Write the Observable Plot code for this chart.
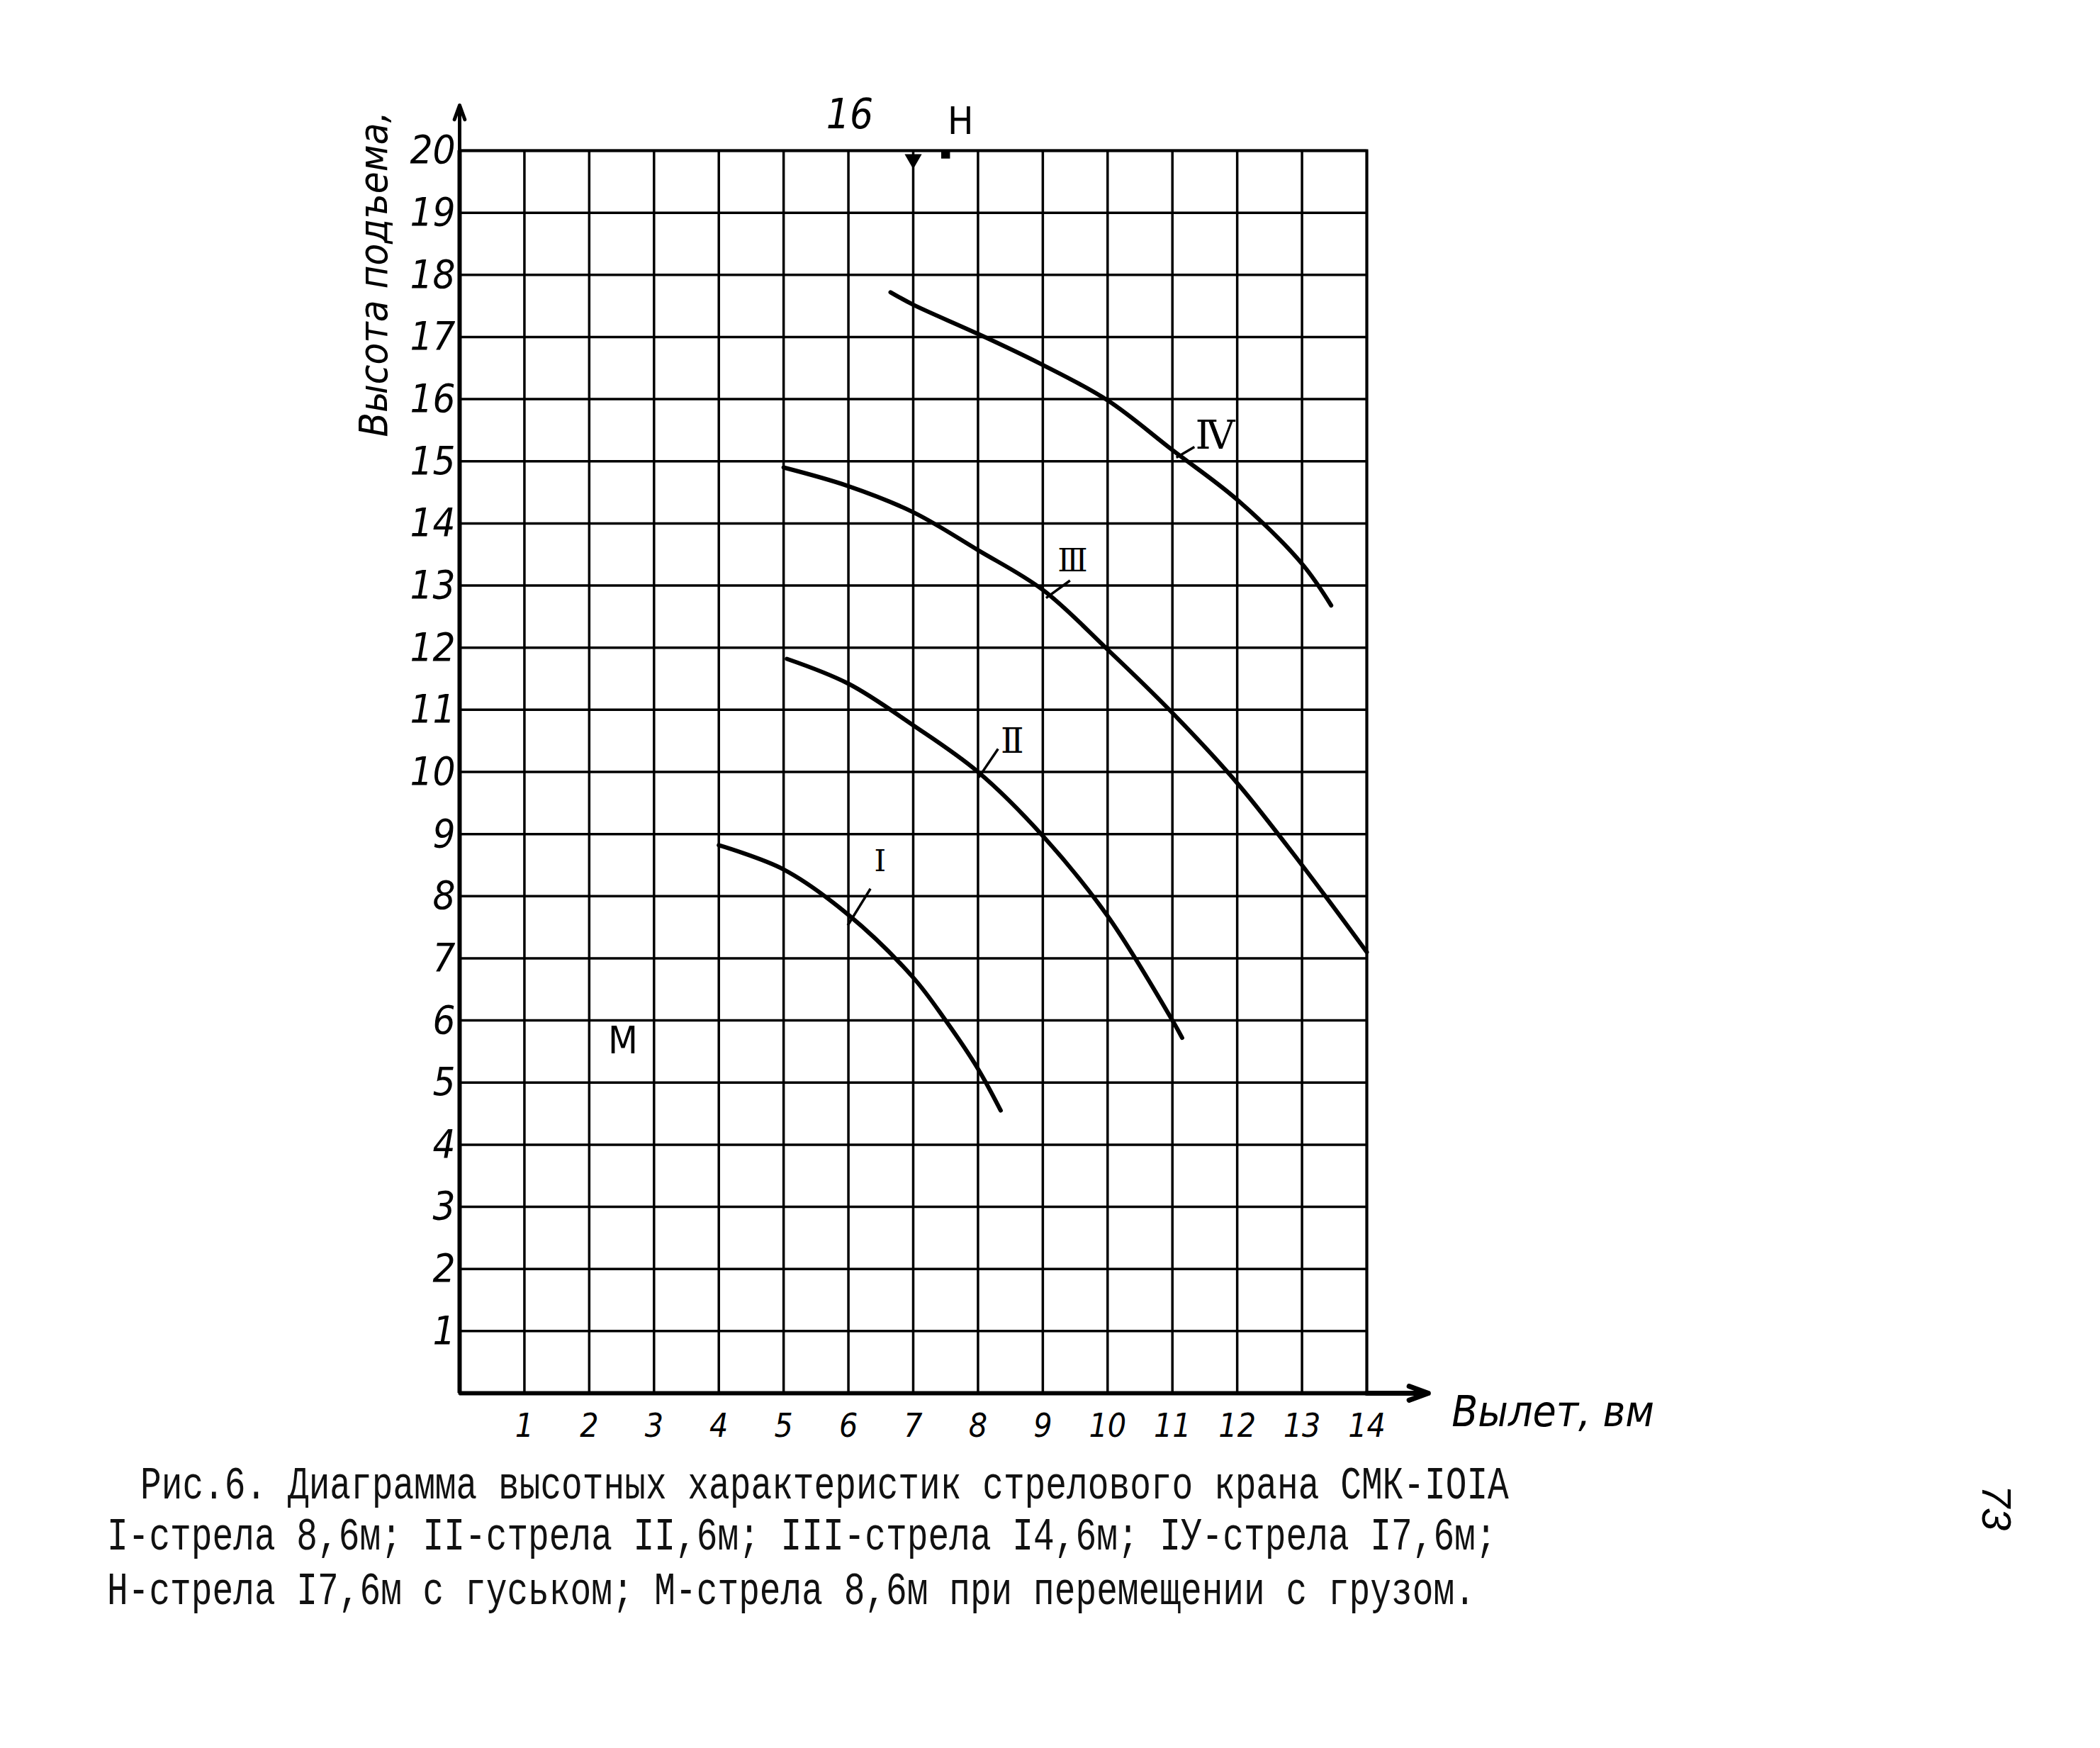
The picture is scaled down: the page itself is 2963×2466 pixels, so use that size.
<!DOCTYPE html>
<html>
<head>
<meta charset="utf-8">
<script src="https://cdn.jsdelivr.net/npm/d3@7"></script>
<script src="https://cdn.jsdelivr.net/npm/@observablehq/plot@0.6"></script>
<style>
  html, body { margin: 0; padding: 0; background: white; }
  body { width: 2963px; height: 2466px; position: relative; overflow: hidden; }
  #chart { position: absolute; left: 0; top: 0; }
  .cap { position: absolute; font-family: "Liberation Mono", "DejaVu Sans Mono", monospace; font-size: 49.5px;
         line-height: 1; white-space: pre; color: #111; transform: scaleY(1.32); transform-origin: 0 0; }
  #page { position: absolute; left: 2817px; top: 2127px; transform: translate(-50%, -50%) rotate(90deg);
          font-family: "Liberation Sans", sans-serif; font-style: italic; font-size: 58px; color: #000; }
</style>
</head>
<body>
<div id="chart"></div>
<div class="cap" style="left:198px; top:2065px;">Рис.6. Диаграмма высотных характеристик стрелового крана СМК-IOIA</div>
<div class="cap" style="left:151px; top:2137px;">I-стрела 8,6м; II-стрела II,6м; III-стрела I4,6м; IУ-стрела I7,6м;</div>
<div class="cap" style="left:151px; top:2214px;">Н-стрела I7,6м с гуськом; М-стрела 8,6м при перемещении с грузом.</div>
<div id="page">73</div>
<script>
// ---- data ----
const xTicks = [1, 2, 3, 4, 5, 6, 7, 8, 9, 10, 11, 12, 13, 14];
const yTicks = [1, 2, 3, 4, 5, 6, 7, 8, 9, 10, 11, 12, 13, 14, 15, 16, 17, 18, 19, 20];
const gridXValues = [0, 1, 2, 3, 4, 5, 6, 7, 8, 9, 10, 11, 12, 13, 14];
const gridYValues = [0, 1, 2, 3, 4, 5, 6, 7, 8, 9, 10, 11, 12, 13, 14, 15, 16, 17, 18, 19, 20];

const seriesNames = ["I", "II", "III", "IV"];
const curveI_x   = [4, 5, 6, 7, 7.5, 8, 8.35];
const curveI_y   = [8.82, 8.43, 7.7, 6.69, 6.0, 5.22, 4.55];
const curveII_x  = [5.05, 6, 7, 8, 9, 10, 11, 11.15];
const curveII_y  = [11.82, 11.42, 10.75, 10.0, 8.97, 7.68, 6.0, 5.72];
const curveIII_x = [5, 6, 7, 8, 9, 10, 11, 12, 13, 14];
const curveIII_y = [14.9, 14.6, 14.18, 13.57, 12.93, 11.97, 10.95, 9.82, 8.5, 7.1];
const curveIV_x  = [6.65, 7, 8, 9, 10, 11, 12, 13, 13.45];
const curveIV_y  = [17.72, 17.52, 17.05, 16.55, 15.98, 15.18, 14.38, 13.35, 12.68];

// curve labels (Roman numerals) and their leader lines
const labelText   = ["Ⅰ", "Ⅱ", "Ⅲ", "Ⅳ"];
const labelX      = [6.49, 8.53, 9.46, 11.66];
const labelY      = [8.56, 10.48, 13.39, 15.41];
const labelSize   = [42, 48, 44, 56];
const leaderX1    = [6.34, 8.31, 9.42, 11.34];
const leaderY1    = [8.12, 10.37, 13.08, 15.23];
const leaderX2    = [5.99, 8.01, 9.05, 11.06];
const leaderY2    = [7.53, 9.91, 12.8, 15.06];

// other annotations
const italicNoteText = ["16"];
const italicNoteX    = [6.02];
const italicNoteY    = [20.57];
const noteText = ["H", "M"];
const noteX    = [7.73, 2.52];
const noteY    = [20.46, 5.67];
const hMarkX = [7.5];      // H marker on the top edge
const tickMarkX = [7];     // wedge on the top edge
const xAxisEnd = 14.95;    // arrow end of the x axis
const yAxisEnd = 20.73;    // arrow end of the y axis
const xTitle = "Вылет, вм";
const yTitle = "Высота подъема,";

// ---- build tables ----
const curveX = [curveI_x, curveII_x, curveIII_x, curveIV_x];
const curveY = [curveI_y, curveII_y, curveIII_y, curveIV_y];
const curves = [];
seriesNames.forEach((s, i) => curveX[i].forEach((x, j) => curves.push({series: s, x, y: curveY[i][j]})));
const labels = labelText.map((t, i) => ({t, x: labelX[i], y: labelY[i], size: labelSize[i]}));
const leaders = leaderX1.map((x1, i) => ({x1, y1: leaderY1[i], x2: leaderX2[i], y2: leaderY2[i]}));
const notes = noteText.map((t, i) => ({t, x: noteX[i], y: noteY[i]}));
const italicNotes = italicNoteText.map((t, i) => ({t, x: italicNoteX[i], y: italicNoteY[i]}));

const hand = "'Liberation Sans Narrow', 'DejaVu Sans Condensed', 'Liberation Sans', sans-serif";

const chart = Plot.plot({
  width: 2963,
  height: 2060,
  marginLeft: 648,
  marginRight: 1035,
  marginTop: 212,
  marginBottom: 95,
  style: {background: "white", color: "black"},
  x: {domain: [0, 14], label: null},
  y: {domain: [0, 20], label: null},
  marks: [
    Plot.gridX(gridXValues, {stroke: "black", strokeOpacity: 1, strokeWidth: 3.5}),
    Plot.gridY(gridYValues, {stroke: "black", strokeOpacity: 1, strokeWidth: 3.5}),
    Plot.frame({stroke: "black", strokeWidth: 4}),
    Plot.ruleX([0], {stroke: "black", strokeWidth: 6}),
    Plot.ruleY([0], {stroke: "black", strokeWidth: 6}),
    Plot.arrow([{x1: 14, y1: 0, x2: xAxisEnd, y2: 0}], {x1: "x1", y1: "y1", x2: "x2", y2: "y2", stroke: "black", strokeWidth: 7, headLength: 36, headAngle: 40}),
    Plot.arrow([{x1: 0, y1: 20, x2: 0, y2: yAxisEnd}], {x1: "x1", y1: "y1", x2: "x2", y2: "y2", stroke: "black", strokeWidth: 5, headLength: 18, headAngle: 40}),
    Plot.dot(tickMarkX, {x: d => d, y: () => 20, symbol: "triangle", r: 9, rotate: 180, dy: 12, fill: "black", stroke: "none"}),
    Plot.dot(hMarkX, {x: d => d, y: () => 20, symbol: "square", r: 7, dy: 5, fill: "black", stroke: "none"}),
    Plot.axisX(xTicks, {tickSize: 0, tickPadding: 29, fontSize: 46, fontStyle: "italic", fontFamily: hand, tickFormat: d => String(d), label: null}),
    Plot.axisY(yTicks, {tickSize: 0, tickPadding: 6, fontSize: 56, fontStyle: "italic", fontFamily: hand, tickFormat: d => String(d), label: null}),
    Plot.line(curves, {x: "x", y: "y", z: "series", curve: "catmull-rom", stroke: "black", strokeWidth: 6, strokeLinecap: "round"}),
    Plot.link(leaders, {x1: "x1", y1: "y1", x2: "x2", y2: "y2", stroke: "black", strokeWidth: 3.5}),
    Plot.text(labels, {x: "x", y: "y", text: "t", fontSize: d => d.size, fontFamily: "'DejaVu Serif', 'Liberation Serif', serif", fill: "black"}),
    Plot.text(italicNotes, {x: "x", y: "y", text: "t", fontSize: 58, fontStyle: "italic", fontFamily: hand, fill: "black"}),
    Plot.text(notes, {x: "x", y: "y", text: "t", fontSize: 54, fontFamily: hand, fill: "black"}),
    Plot.text([xTitle], {x: () => 15.31, y: () => -0.31, text: d => d, textAnchor: "start", fontSize: 60, fontStyle: "italic", fontFamily: hand, fill: "black"}),
    Plot.text([yTitle], {x: () => -1.32, y: () => 18.01, text: d => d, rotate: -90, fontSize: 56, fontStyle: "italic", fontFamily: hand, fill: "black"})
  ]
});
document.getElementById("chart").appendChild(chart);
</script>
</body>
</html>
